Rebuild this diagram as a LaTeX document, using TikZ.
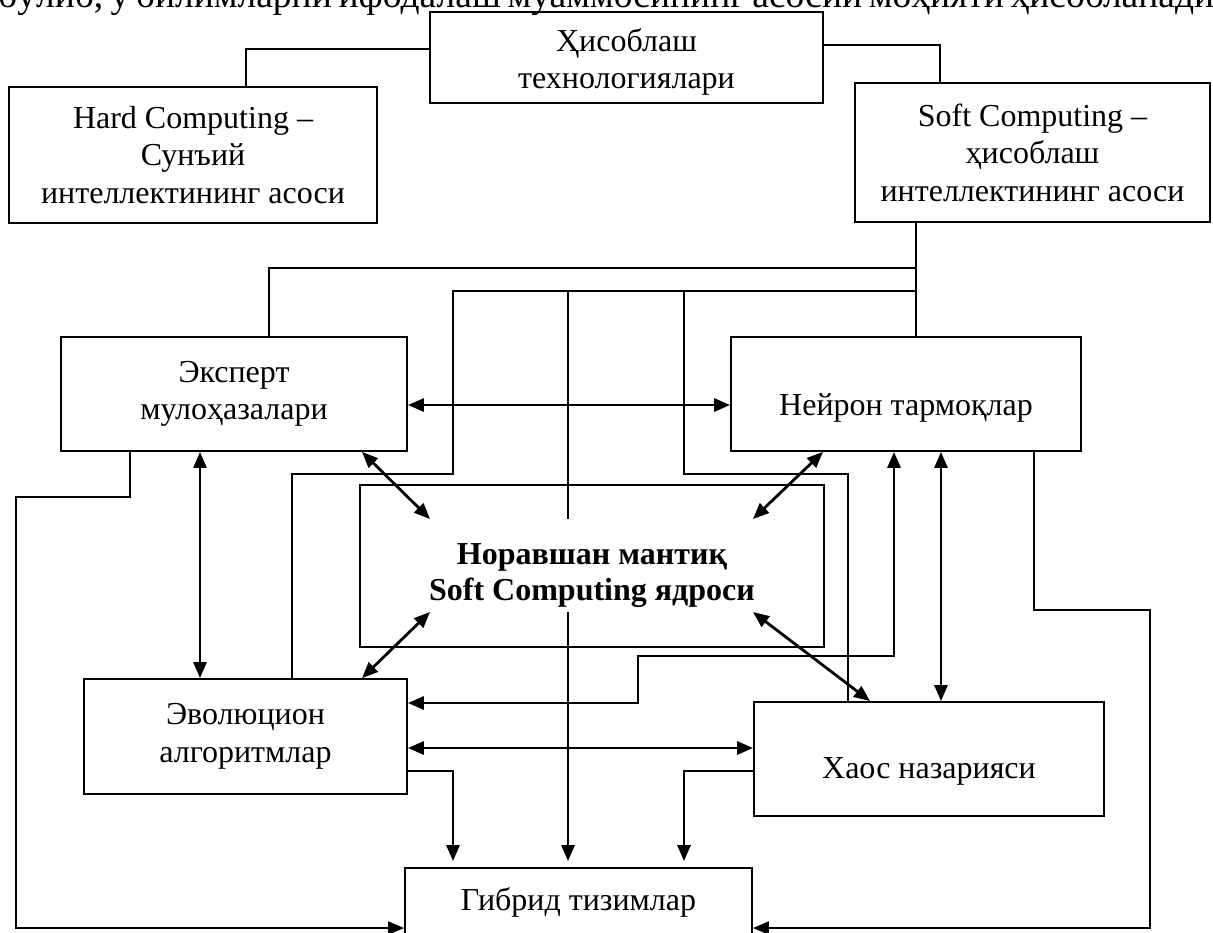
\documentclass[tikz,border=0pt]{standalone}
\usepackage{fontspec}
\setmainfont{Liberation Serif}
\usetikzlibrary{arrows.meta}

\begin{document}
\begin{tikzpicture}[x=1pt,y=-1pt,
  >={Triangle[length=16pt,width=13pt]},
  box/.style={draw, line width=1.8pt, inner sep=0pt, align=center,
    font=\fontsize{32}{37.5}\selectfont},
  plain/.style={line width=1.8pt},
  arr/.style={line width=2.8pt}]
\useasboundingbox (0,0) rectangle (1213,932);

% end of the paragraph above the figure
\node[anchor=base west, inner sep=0pt, font=\fontsize{37.5}{45}\selectfont] (prev) at (-2,7)
  {\makebox[1216pt][s]{бўлиб, у билимларни ифодалаш муаммосининг асосий моҳияти ҳисобланади}};

\node[box, minimum width=393pt, minimum height=91pt] (hisob) at (626.5,57.5) {\rule{0pt}{32pt}Ҳисоблаш\\технологиялари};
\node[box, minimum width=368pt, minimum height=136pt] (hard) at (193,155) {Hard Computing --\\Сунъий\\интеллектининг асоси};
\node[box, minimum width=355pt, minimum height=139pt] (soft) at (1032.5,152.5) {Soft Computing --\\ҳисоблаш\\интеллектининг асоси};

\node[box, minimum width=346pt, minimum height=114pt] (ekspert) at (234,394) {Эксперт\\мулоҳазалари};
\node[box, minimum width=350pt, text height=78pt, text depth=36pt] (neyron) at (906,394) {Нейрон тармоқлар};
\node[box, minimum width=464pt, minimum height=162pt, font=\fontsize{32}{36}\selectfont\bfseries] (noravshan) at (592,566) {\rule{0pt}{40pt}Норавшан мантиқ\\Soft Computing ядроси};
\node[box, minimum width=323pt, minimum height=115pt] (evol) at (245.5,736.5) {Эволюцион\\алгоритмлар};
\node[box, minimum width=350pt, text height=76pt, text depth=38pt] (xaos) at (929,759) {Хаос назарияси};
\node[box, minimum width=347pt, text height=42pt, text depth=30pt] (gibrid) at (578.5,904) {Гибрид тизимлар};

\coordinate (bus1) at (916,268);
\coordinate (bus2) at (916,291);
\coordinate (k1) at (453,474);
\coordinate (k2) at (684,474);
\coordinate (ntop) at (568,519);
\coordinate (nbot) at (568,612);
\coordinate (nw) at (430,519);
\coordinate (ne) at (753,519);
\coordinate (sw) at (430,612);
\coordinate (se) at (753,612);
\coordinate (lbend) at (16,497);
\coordinate (rbend) at (1150,610);
\coordinate (mbend) at (638,656);

% upper level
\draw[plain] ([yshift=8.5pt]hisob.west) -| ([xshift=53pt]hard.north);
\draw[plain] ([yshift=12.5pt]hisob.east) -| ([xshift=-92.5pt]soft.north);

% two buses under Soft Computing
\draw[plain] (soft.south -| bus1) -- (neyron.north -| bus1);
\draw[plain] ([xshift=35pt]ekspert.north) |- (bus1);
\draw[plain] ([xshift=46.5pt]evol.north) |- (k1) |- (bus2);
\draw[plain] (ntop |- bus2) -- (ntop);
\draw[plain] (k2 |- bus2) -- (k2) -| ([xshift=-81pt]xaos.north);

% links between the methods
\draw[arr,<->] ([yshift=-11pt]ekspert.east) -- ([yshift=-11pt]neyron.west);
\draw[arr,<->] ([xshift=-34pt]ekspert.south) -- ([xshift=-45.5pt]evol.north);
\draw[arr,<->] ([xshift=128pt]ekspert.south) -- (nw);
\draw[arr,<->] ([xshift=-83pt]neyron.south) -- (ne);
\draw[arr,<->] ([xshift=116.5pt]evol.north) -- (sw);
\draw[arr,<->] ([xshift=-59pt]xaos.north) -- (se);
\draw[arr,<->] ([yshift=33.5pt]evol.east) -| (mbend) -| ([xshift=-12pt]neyron.south);
\draw[arr,<->] ([xshift=35pt]neyron.south) -- ([xshift=12pt]xaos.north);
\draw[arr,<->] ([yshift=-11.5pt]evol.east) -- ([yshift=11pt]xaos.west);

% into the hybrid systems
\draw[arr,->,shorten >=6pt] (nbot) -- (nbot |- gibrid.north);
\draw[arr,->,shorten >=6pt] ([yshift=-34.5pt]evol.east) -| ([xshift=-125.5pt]gibrid.north);
\draw[arr,->,shorten >=6pt] ([yshift=-12pt]xaos.west) -| ([xshift=105.5pt]gibrid.north);
\draw[plain,->] ([xshift=-104pt]ekspert.south) |- (lbend) |- ([yshift=-24pt]gibrid.west);
\draw[plain,->] ([xshift=128pt]neyron.south) |- (rbend) |- ([yshift=-24pt]gibrid.east);
\end{tikzpicture}
\end{document}
